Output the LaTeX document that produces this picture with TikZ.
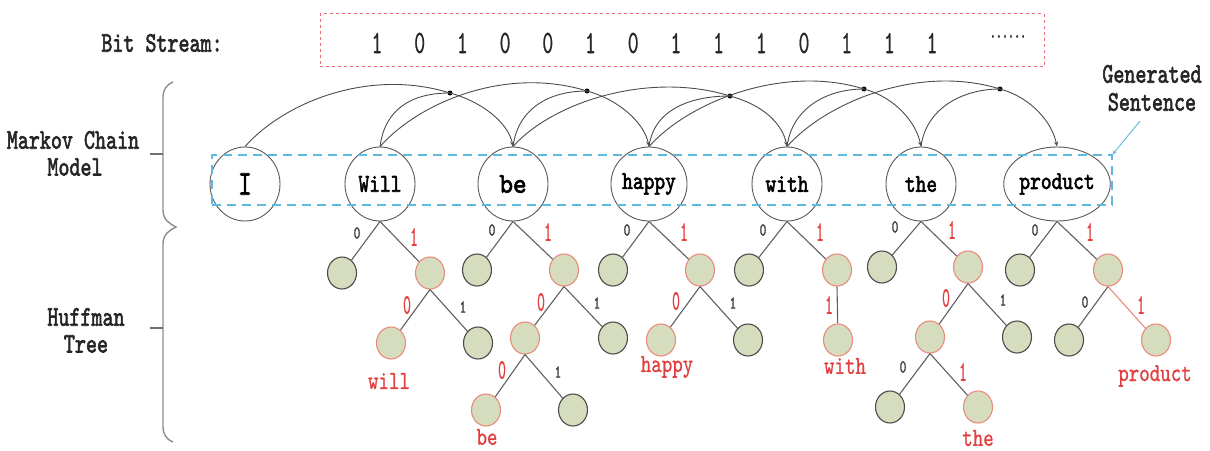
\documentclass[tikz,border=0pt]{standalone}
\usepackage{fontspec}
\usepackage{graphicx}
\usetikzlibrary{shapes.geometric,arrows.meta}
% heavier and medium cuts of the typewriter face
\newfontfamily\heavy{lmmono10-regular.otf}[FakeBold=2.5]
\newfontfamily\medium{lmmono10-regular.otf}[FakeBold=0.8]
% vertically stretched text
\newcommand\tall[2][1.6]{\scalebox{1}[#1]{#2}}
\definecolor{leaf}{RGB}{214,221,190}
\definecolor{edgegrey}{RGB}{95,95,95}
\definecolor{hot}{RGB}{226,62,62}
\definecolor{hotring}{RGB}{232,140,125}
\definecolor{sky}{RGB}{95,185,225}
\definecolor{bitred}{RGB}{232,110,115}
\definecolor{bracegrey}{RGB}{140,140,140}

\begin{document}
\begin{tikzpicture}[x=1pt,y=-1pt,
  word/.style={ellipse, draw=black!65, line width=0.9pt, minimum width=70pt,
    minimum height=74pt, inner sep=0pt, font=\heavy\fontsize{20.5}{22}\selectfont},
  bigword/.style={word, font=\heavy\fontsize{26}{28}\selectfont},
  plain/.style={ellipse, draw=black!70, line width=1.1pt, fill=leaf,
    minimum width=29pt, minimum height=32pt, inner sep=0pt},
  hit/.style={plain, draw=hotring},
  br/.style={draw=edgegrey, line width=1.1pt},
  hotbr/.style={draw=hotring, line width=1.1pt},
  bitsm/.style={font=\medium\fontsize{13}{14}\selectfont, text=black!80, inner sep=0pt},
  bitbig/.style={font=\medium\fontsize{15}{16}\selectfont, text=hot, inner sep=0pt},
  leafword/.style={font=\medium\fontsize{20}{22}\selectfont, text=hot, inner sep=0pt},
  caption/.style={font=\heavy\fontsize{21}{22}\selectfont, text=black!85, inner sep=0pt},
  digit/.style={font=\medium\fontsize{21}{22}\selectfont, text=black!85, inner sep=0pt},
  arc/.style={draw=black!70, line width=0.9pt},
  tip/.style={-{Stealth[length=5pt,width=4pt]}},
  jdot/.style={circle, fill=black, inner sep=0pt, minimum size=5pt},
]
\useasboundingbox (0,0) rectangle (1210,450);

% ---------- bit stream ----------
\node[caption] (bslabel) at (162,43) {\tall[1.35]{Bit Stream:}};
\node[draw=bitred, dashed, line width=0.8pt, minimum width=724pt, minimum height=53pt,
      inner sep=0pt] (bits) at (682,40) {};
\foreach \b [count=\k from 0] in {1,0,1,0,0,1,0,1,1,1,0,1,1,1}
  \node[digit] (bit\k) at ({377+42.7*\k},43) {\tall[1.55]{\b}};
\node[caption] (bitmore) at (1008,39) {\scalebox{0.55}[1]{······}};

% ---------- side labels and brace ----------
\node[caption] (mk1) at (73,140) {\tall[1.35]{Markov Chain}};
\node[caption] (mk2) at (75,167) {\tall[1.35]{Model}};
\node[caption] (hf1) at (86,317) {\tall[1.35]{Huffman}};
\node[caption] (hf2) at (86,344) {\tall[1.35]{Tree}};
\draw[bracegrey, line width=1.4pt]
  (173,82) .. controls (166,85) and (163,90) .. (163,97) -- (163,210)
  .. controls (163,220) and (170,224) .. (176,227)
  .. controls (170,230) and (163,234) .. (163,244) -- (163,427)
  .. controls (163,434) and (166,439) .. (173,442);
\draw[bracegrey!80!black, line width=1.2pt] (150,154) -- (163,154);
\draw[bracegrey!80!black, line width=1.2pt] (150,328) -- (163,328);

% ---------- sentence words ----------
\node[bigword] (I)       at (245,184) {\tall[1.35]{I}};
\node[word]    (Will)    at (380,184) {\tall[1.25]{Will}};
\node[bigword] (be)      at (513,184) {\tall[1.1]{be}};
\node[word]    (happy)   at (649,184) {\tall[1.25]{happy}};
\node[word]    (with)    at (787,184) {\tall[1.25]{with}};
\node[word]    (the)     at (921,184) {\tall[1.25]{the}};
\node[word]    (product) at (1057,184) {\tall[1.25]{product}};

\node[draw=sky, dashed, dash pattern=on 9pt off 6pt, line width=1.2pt,
      minimum width=900pt, minimum height=50pt, inner sep=0pt] (sent) at (662,180) {};
\node[caption] (gen1) at (1152,74) {\tall[1.35]{Generated}};
\node[caption] (gen2) at (1152,102) {\tall[1.35]{Sentence}};
\coordinate (genfoot) at (1140,121);
\draw[sky, line width=0.9pt, -{Stealth[length=4pt,width=4pt]}] (genfoot) -- (sent.north east);

% ---------- second-order transitions ----------
\node[jdot] (j1) at (450,93) {};
\node[jdot] (j2) at (587,91) {};
\node[jdot] (j3) at (730,96) {};
\node[jdot] (j4) at (864,89) {};
\node[jdot] (j5) at (1000,89) {};
\foreach \a/\m/\c/\j in {I/Will/be/j1, Will/be/happy/j2, be/happy/with/j3,
                          happy/with/the/j4, with/the/product/j5} {
  \draw[arc, tip] (\a.north) .. controls +(40,-45) and +(-80,-25) .. (\j.center)
     .. controls +(30,8) and +(-5,-25) .. (\c.north);
  \draw[arc] (\m.north) .. controls +(5,-38) and +(-38,0) .. (\j.center);
}

% ---------- Huffman tree of "Will" ----------
\node[plain] (w0)  at (342,273) {};
\node[hit]   (w1)  at (430,273) {};
\node[hit]   (w10) at (391,343) {};
\node[plain] (w11) at (478,343) {};
\draw[br] (Will.south) -- (w0);
\draw[br] (Will.south) -- (w1);
\draw[br] (w1.south) -- (w10);
\draw[br] (w1.south) -- (w11);
\node[bitsm]  (wl0)  at (357,233) {\tall[1.4]{0}};
\node[bitbig] (wl1)  at (414,237) {\tall[1.9]{1}};
\node[bitbig] (wl10) at (407,305) {\tall[1.9]{0}};
\node[bitsm]  (wl11) at (463,307) {\tall[1.4]{1}};
\node[leafword] (wname) at (389,381) {\tall[1.3]{will}};

% ---------- Huffman tree of "be" ----------
\node[plain] (b0)   at (477,270) {};
\node[hit]   (b1)   at (564,270) {};
\node[hit]   (b10)  at (525,338) {};
\node[plain] (b11)  at (613,338) {};
\node[hit]   (b100) at (486,410) {};
\node[plain] (b101) at (573,410) {};
\draw[br] (be.south) -- (b0);
\draw[br] (be.south) -- (b1);
\draw[br] (b1.south) -- (b10);
\draw[br] (b1.south) -- (b11);
\draw[br] (b10.south) -- (b100);
\draw[br] (b10.south) -- (b101);
\node[bitsm]  (bl0)   at (492,230) {\tall[1.4]{0}};
\node[bitbig] (bl1)   at (548,232) {\tall[1.9]{1}};
\node[bitbig] (bl10)  at (541,302) {\tall[1.9]{0}};
\node[bitsm]  (bl11)  at (597,303) {\tall[1.4]{1}};
\node[bitbig] (bl100) at (502,370) {\tall[1.9]{0}};
\node[bitsm]  (bl101) at (558,372) {\tall[1.4]{1}};
\node[leafword] (bname) at (487,437) {\tall[1.3]{be}};

% ---------- Huffman tree of "happy" ----------
\node[plain] (h0)  at (613,270) {};
\node[hit]   (h1)  at (700,270) {};
\node[hit]   (h10) at (661,340) {};
\node[plain] (h11) at (748,340) {};
\draw[br] (happy.south) -- (h0);
\draw[br] (happy.south) -- (h1);
\draw[br] (h1.south) -- (h10);
\draw[br] (h1.south) -- (h11);
\node[bitsm]  (hl0)  at (627,230) {\tall[1.4]{0}};
\node[bitbig] (hl1)  at (684,232) {\tall[1.9]{1}};
\node[bitbig] (hl10) at (676,301) {\tall[1.9]{0}};
\node[bitsm]  (hl11) at (733,303) {\tall[1.4]{1}};
\node[leafword] (hname) at (667,367) {\tall[1.3]{happy}};

% ---------- Huffman tree of "with" ----------
\node[plain] (t0)  at (749,270) {};
\node[hit]   (t1)  at (837,270) {};
\node[hit]   (t11) at (838,340) {};
\draw[br] (with.south) -- (t0);
\draw[br] (with.south) -- (t1);
\draw[br] (t1.south) -- (t11);
\node[bitsm]  (tl0)  at (763,230) {\tall[1.4]{0}};
\node[bitbig] (tl1)  at (820,232) {\tall[1.9]{1}};
\node[bitbig] (tl11) at (829,305) {\tall[1.9]{1}};
\node[leafword] (tname) at (845,366) {\tall[1.3]{with}};

% ---------- Huffman tree of "the" ----------
\node[plain] (e0)   at (882,267) {};
\node[hit]   (e1)   at (968,267) {};
\node[hit]   (e10)  at (930,337) {};
\node[plain] (e11)  at (1017,337) {};
\node[plain] (e100) at (890,407) {};
\node[hit]   (e101) at (978,407) {};
\draw[br] (the.south) -- (e0);
\draw[br] (the.south) -- (e1);
\draw[br] (e1.south) -- (e10);
\draw[br] (e1.south) -- (e11);
\draw[br] (e10.south) -- (e100);
\draw[br] (e10.south) -- (e101);
\node[bitsm]  (el0)   at (895,227) {\tall[1.4]{0}};
\node[bitbig] (el1)   at (952,230) {\tall[1.9]{1}};
\node[bitbig] (el10)  at (946,298) {\tall[1.9]{0}};
\node[bitsm]  (el11)  at (1003,300) {\tall[1.4]{1}};
\node[bitsm]  (el100) at (903,367) {\tall[1.4]{0}};
\node[bitbig] (el101) at (963,372) {\tall[1.9]{1}};
\node[leafword] (ename) at (978,438) {\tall[1.3]{the}};

% ---------- Huffman tree of "product" ----------
\node[plain] (p0)  at (1020,270) {};
\node[hit]   (p1)  at (1108,270) {};
\node[plain] (p10) at (1069,340) {};
\node[hit]   (p11) at (1156,340) {};
\draw[br] (product.south) -- (p0);
\draw[br] (product.south) -- (p1);
\draw[br] (p1.south) -- (p10);
\draw[hotbr] (p1.south) -- (p11);
\node[bitsm]  (pl0)  at (1035,230) {\tall[1.4]{0}};
\node[bitbig] (pl1)  at (1090,232) {\tall[1.9]{1}};
\node[bitsm]  (pl10) at (1085,302) {\tall[1.4]{0}};
\node[bitbig] (pl11) at (1141,305) {\tall[1.9]{1}};
\node[leafword] (pname) at (1155,376) {\tall[1.3]{product}};
\end{tikzpicture}
\end{document}
